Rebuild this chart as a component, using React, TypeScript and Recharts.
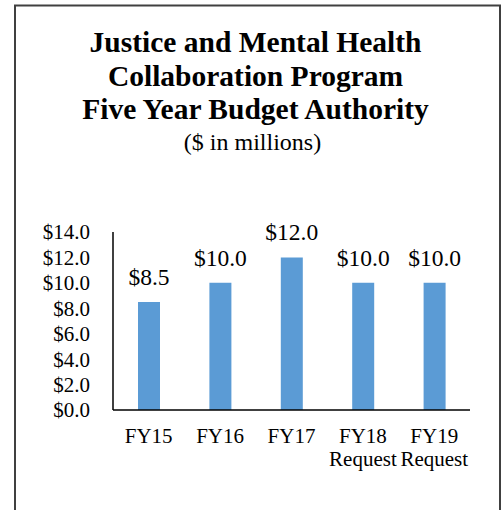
import React from 'react';
import { BarChart, Bar, XAxis, YAxis, LabelList } from 'recharts';

const categories = ['FY15', 'FY16', 'FY17', 'FY18', 'FY19'];
const subLabels = ['', '', '', 'Request', 'Request'];
const budget = [8.5, 10.0, 12.0, 10.0, 10.0];
const yTicks = [0, 2, 4, 6, 8, 10, 12, 14];
const titleLines = ['Justice and Mental Health', 'Collaboration Program', 'Five Year Budget Authority'];
const subtitle = '($ in millions)';

const data = categories.map((c, i) => ({ name: c, value: budget[i] }));

const FONT = '"Liberation Serif", "Times New Roman", Times, serif';

function XTick(props: any) {
  const { x, y, payload } = props;
  const sub = subLabels[categories.indexOf(payload.value)];
  return (
    <g>
      <text x={x} y={y + 33} textAnchor="middle" fontFamily={FONT} fontSize={21} fill="#000">
        {payload.value}
      </text>
      {sub ? (
        <text x={x} y={y + 56} textAnchor="middle" fontFamily={FONT} fontSize={21} fill="#000">
          {sub}
        </text>
      ) : null}
    </g>
  );
}

export default function App() {
  return (
    <div style={{ position: 'absolute', left: 0, top: 0, width: 503, height: 510, overflow: 'hidden', background: '#fff' }}>
      <BarChart
        width={503}
        height={510}
        data={data}
        margin={{ top: 232, right: 33, bottom: 40, left: 0 }}
      >
        <XAxis
          dataKey="name"
          height={60}
          axisLine={{ stroke: '#000', strokeWidth: 1.5 }}
          tickLine={false}
          tickSize={0}
          tickMargin={0}
          tick={<XTick />}
          interval={0}
        />
        <YAxis
          width={113}
          domain={[0, 14]}
          ticks={yTicks}
          interval={0}
          axisLine={{ stroke: '#000', strokeWidth: 1.5 }}
          tickLine={false}
          tickMargin={17}
          tickFormatter={(v) => `$${Number(v).toFixed(1)}`}
          tick={{ fontFamily: FONT, fontSize: 21, fill: '#000' }}
        />
        <Bar dataKey="value" fill="#5b9bd5" barSize={22} isAnimationActive={false}>
          <LabelList
            dataKey="value"
            position="top"
            offset={17}
            formatter={(v: any) => `$${Number(v).toFixed(1)}`}
            style={{ fontFamily: FONT, fontSize: 23.5, fill: '#000' }}
          />
        </Bar>
      </BarChart>
      <svg width={503} height={510} style={{ position: 'absolute', left: 0, top: 0, pointerEvents: 'none' }}>
        <rect x={15} y={5.5} width={485} height={520} fill="none" stroke="#404040" strokeWidth={2} />
        {titleLines.map((t, i) => (
          <text
            key={t}
            x={255.5}
            y={52 + i * 33.5}
            textAnchor="middle"
            fontFamily={FONT}
            fontWeight="bold"
            fontSize={29.5}
            fill="#000"
          >
            {t}
          </text>
        ))}
        <text x={252.5} y={150} textAnchor="middle" fontFamily={FONT} fontSize={24} fill="#000">
          {subtitle}
        </text>
      </svg>
    </div>
  );
}
